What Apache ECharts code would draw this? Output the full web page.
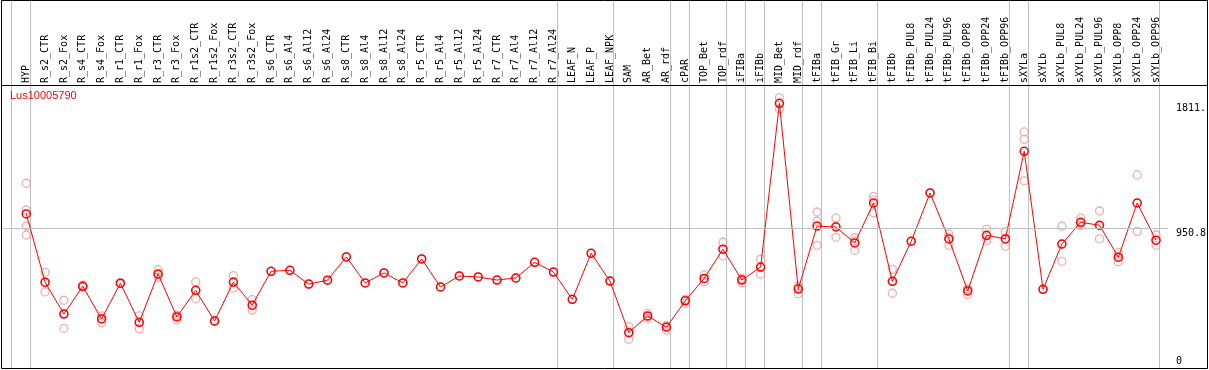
<!DOCTYPE html>
<html><head><meta charset="utf-8">
<script src="https://cdn.jsdelivr.net/npm/echarts@6/dist/echarts.min.js"></script>
<style>html,body{margin:0;padding:0;background:#fff}#c{width:1209px;height:370px}</style>
</head><body><div id="c"></div>
<script>
const geneName = 'Lus10005790';
const categories = ['HYP','R_s2_CTR','R_s2_Fox','R_s4_CTR','R_s4_Fox','R_r1_CTR','R_r1_Fox','R_r3_CTR','R_r3_Fox','R_r1s2_CTR','R_r1s2_Fox','R_r3s2_CTR','R_r3s2_Fox','R_s6_CTR','R_s6_Al4','R_s6_Al12','R_s6_Al24','R_s8_CTR','R_s8_Al4','R_s8_Al12','R_s8_Al24','R_r5_CTR','R_r5_Al4','R_r5_Al12','R_r5_Al24','R_r7_CTR','R_r7_Al4','R_r7_Al12','R_r7_Al24','LEAF_N','LEAF_P','LEAF_NPK','SAM','AR_Bet','AR_rdf','cPAR','TOP_Bet','TOP_rdf','iFIBa','iFIBb','MID_Bet','MID_rdf','tFIBa','tFIB_Gr','tFIB_Li','tFIB_Bi','tFIBb','tFIBb_PUL8','tFIBb_PUL24','tFIBb_PUL96','tFIBb_OPP8','tFIBb_OPP24','tFIBb_OPP96','sXYLa','sXYLb','sXYLb_PUL8','sXYLb_PUL24','sXYLb_PUL96','sXYLb_OPP8','sXYLb_OPP24','sXYLb_OPP96'];
const meanValues = [1050,580,361,552,327,573,304,637,341,524,313,581,422,655,662,567,594,754,575,644,575,740,547,623,616,595,609,717,650,462,779,588,233,348,270,452,606,807,595,684,1811,533,966,960,850,1125,586,862,1194,878,520,903,878,1481,531,843,992,972,752,1125,869];
const repA = [1261,648,456,559,348,575,348,666,354,582,315,625,460,655,662,567,594,754,575,644,575,740,547,623,616,595,609,717,650,462,779,588,274,366,283,462,630,855,604,738,1850,553,1063,1022,886,1171,669,862,1194,912,534,944,926,1614,531,965,1022,1070,783,1318,905];
const repB = [1077,579,364,550,331,573,304,631,349,523,313,578,418,null,null,null,null,null,null,null,null,null,null,null,null,null,null,null,null,null,null,null,237,346,276,458,604,806,604,680,1811,545,1001,969,864,1146,585,null,null,888,531,899,881,1563,null,840,985,968,752,1127,868];
const repC = [967,513,263,547,302,571,260,614,320,467,311,540,388,null,null,null,null,null,null,null,null,null,null,null,null,null,null,null,null,null,null,null,187,332,251,435,584,760,577,635,1772,501,834,889,800,1058,504,null,null,834,494,866,827,1277,null,724,969,878,721,930,834];
const repD = [905,null,null,null,null,null,null,null,null,null,null,null,null,null,null,null,null,null,null,null,null,null,null,null,null,null,null,null,null,null,null,null,null,null,null,null,null,null,null,null,null,null,null,null,null,null,null,null,null,null,null,null,null,null,null,null,null,null,null,null,null];
const groupStarts = [0,1,29,32,35,36,38,39,40,42,43,46,53,54,61];
const yTickValues = [0, 950.8, 1811];
const yTickLabels = ['0', '950.8', '1811.'];

const BASE = 1;             // x position of the first column's left edge
const OFF = 15/19;          // marker position inside its column
const XMIN = BASE - 10.5/19, XMAX = BASE + 61 + 8/19, YMAX = 1937;
const mono = 'DejaVu Sans Mono';
const GRAY = '#c0c0c0';

const colX = i => BASE + i + OFF;
const meanData = meanValues.map((v, i) => [colX(i), v]);
const repData = [];
[repA, repB, repC, repD].forEach(arr => arr.forEach((v, i) => { if (v != null) repData.push([colX(i), v]); }));
const labelPos = categories.map((c, i) => colX(i));

const chart = echarts.init(document.getElementById('c'), null, {renderer: 'canvas'});
chart.setOption({
  animation: false,
  backgroundColor: '#fff',
  title: {text: geneName, left: 10, top: 90, padding: 0, textStyle: {color: '#ff0000', fontSize: 11, fontWeight: 'normal', fontFamily: 'Liberation Sans'}},
  grid: [
    {left: 1, right: 31, top: 0, height: 85},
    {left: 1, right: 31, top: 85, bottom: 3.5}
  ],
  xAxis: [
    {gridIndex: 0, type: 'value', min: XMIN, max: XMAX, show: false, splitLine: {show: false}},
    {gridIndex: 1, type: 'value', position: 'top', min: XMIN, max: XMAX, axisLine: {show: false},
     axisTick: {show: false}, splitLine: {show: false},
     axisLabel: {show: true, customValues: labelPos, rotate: 90, margin: 2, fontFamily: mono, fontSize: 10, color: '#000',
       formatter: v => categories[Math.round(v - BASE - OFF)], hideOverlap: false}},
  ],
  yAxis: [
    {gridIndex: 0, type: 'value', show: false},
    {gridIndex: 1, type: 'value', position: 'right', min: 0, max: YMAX, axisLine: {show: false}, axisTick: {show: false}, splitLine: {show: false},
     axisLabel: {customValues: yTickValues.slice(1), verticalAlign: 'top', margin: 8, fontFamily: mono, fontSize: 10, color: '#000',
       formatter: v => yTickLabels[yTickValues.indexOf(v)]}},
    {gridIndex: 1, type: 'value', position: 'right', min: 0, max: YMAX, axisLine: {show: false}, axisTick: {show: false}, splitLine: {show: false},
     axisLabel: {customValues: yTickValues.slice(0, 1), verticalAlign: 'bottom', margin: 8, fontFamily: mono, fontSize: 10, color: '#000',
       formatter: v => yTickLabels[yTickValues.indexOf(v)]}}
  ],
  series: [
    {type: 'scatter', xAxisIndex: 1, yAxisIndex: 1, data: repData, symbol: 'circle', symbolSize: 8,
     itemStyle: {color: 'rgba(0,0,0,0)', borderColor: '#eb9a9a', borderWidth: 1.3}, z: 2,
     markLine: {silent: true, symbol: 'none', label: {show: false}, lineStyle: {color: GRAY, width: 1, type: 'solid'},
       data: [{yAxis: yTickValues[1]}]}},
    {type: 'line', xAxisIndex: 1, yAxisIndex: 1, data: meanData, symbol: 'circle', symbolSize: 8,
     lineStyle: {color: '#ff0000', width: 1}, itemStyle: {color: 'rgba(0,0,0,0)', borderColor: '#ff0000', borderWidth: 1.5}, z: 3}
  ]
});

// group separators, placed through the x axis scale, running through header and plot
const sepLines = groupStarts.map(g => {
  const x = Math.floor(chart.convertToPixel({xAxisIndex: 1}, BASE + g)) + 0.5;
  return {type: 'line', silent: true, z: 0, shape: {x1: x, y1: 0, x2: x, y2: 369}, style: {stroke: GRAY, lineWidth: 1}};
});
chart.setOption({
  graphic: sepLines.concat([
    {type: 'rect', silent: true, z: 100, shape: {x: 1.5, y: 0.5, width: 1206, height: 368}, style: {fill: null, stroke: '#000', lineWidth: 1}},
    {type: 'line', silent: true, z: 100, shape: {x1: 1, y1: 85.5, x2: 1208, y2: 85.5}, style: {stroke: '#000', lineWidth: 1}}
  ])
});
</script></body></html>
